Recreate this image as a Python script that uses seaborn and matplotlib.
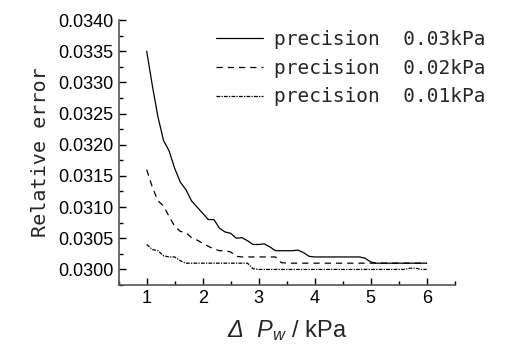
import numpy as np
import pandas as pd
import matplotlib
matplotlib.use('Agg')
import matplotlib.pyplot as plt
from matplotlib.ticker import MultipleLocator, FormatStrFormatter
import seaborn as sns

# pressure difference grid (kPa)
dp = np.linspace(1, 6, 51)

# relative error for each measurement precision
err_003 = [0.03350, 0.03295, 0.03245, 0.03207, 0.03190, 0.03162, 0.03140, 0.03128, 0.03110, 0.03100,
           0.03090, 0.03080, 0.03080, 0.03066, 0.03060, 0.03058, 0.03050, 0.03051, 0.03046, 0.03040,
           0.03040, 0.03041, 0.03036, 0.03030, 0.03030, 0.03030, 0.03030, 0.03031, 0.03027, 0.03021,
           0.03020] + [0.03020] * 8 + [0.03018, 0.03012] + [0.03010] * 10
err_002 = [0.03160, 0.03132, 0.03110, 0.03102, 0.03085, 0.03069, 0.03061, 0.03059, 0.03051, 0.03047,
           0.03042, 0.03037, 0.03033, 0.03030, 0.03030, 0.03028, 0.03021] + [0.03020] * 7 \
          + [0.03011] + [0.03010] * 26
err_001 = [0.03040, 0.03032, 0.03030, 0.03022, 0.03020, 0.03020, 0.03014] + [0.03010] * 12 \
          + [0.03001] + [0.03000] * 27 + [0.03002, 0.03002, 0.03000, 0.03000]

labels = ['precision  0.03kPa', 'precision  0.02kPa', 'precision  0.01kPa']
styles = ['-', (0, (5, 4)), (0, (3, 1, 1, 1))]

df = pd.DataFrame({'dp': dp, 'p003': err_003, 'p002': err_002, 'p001': err_001})

sns.set_style('ticks')
plt.rcParams['font.family'] = ['Liberation Sans', 'DejaVu Sans']
# math parts of the x label are all italic (greek capitals included)
plt.rcParams['mathtext.fontset'] = 'custom'
plt.rcParams['mathtext.rm'] = 'Liberation Sans:italic'
plt.rcParams['mathtext.it'] = 'Liberation Sans:italic'

fig = plt.figure(figsize=(5.06, 3.6), dpi=100)
ax = fig.add_axes([0.2346, 0.2083, 0.664, 0.7361])

for col, lab, ls in zip(['p003', 'p002', 'p001'], labels, styles):
    sns.lineplot(data=df, x='dp', y=col, ax=ax, color='black', lw=0.9,
                 linestyle=ls, label=lab, legend=False)

ax.set_xlim(0.5, 6.5)
ax.set_ylim(0.02975, 0.0340)
ax.xaxis.set_major_locator(MultipleLocator(1))
ax.xaxis.set_minor_locator(MultipleLocator(0.5))
ax.yaxis.set_major_locator(MultipleLocator(0.0005))
ax.yaxis.set_minor_locator(MultipleLocator(0.00025))
ax.yaxis.set_major_formatter(FormatStrFormatter('%.4f'))
ax.tick_params(which='both', direction='in', labelsize=13, colors='black')
ax.tick_params(which='major', length=5, width=1)
ax.tick_params(which='minor', length=3, width=1)
sns.despine(ax=ax)
for s in ['left', 'bottom']:
    ax.spines[s].set_color('#555555')
    ax.spines[s].set_linewidth(1.2)

ax.set_xlabel(r'$Δ\ \ P_{w}$ / kPa', fontsize=17, labelpad=8)
ax.set_ylabel('Relative error', fontsize=14.5, family='DejaVu Sans Mono', labelpad=6)

h, l = ax.get_legend_handles_labels()
fig.legend(h, l, loc='upper left', bbox_to_anchor=(0.427, 0.917), frameon=False,
           prop={'family': 'DejaVu Sans Mono', 'size': 14}, handlelength=2.4,
           handletextpad=0.6, labelspacing=0.5, borderpad=0, borderaxespad=0)

fig.savefig('out.png', dpi=100)
